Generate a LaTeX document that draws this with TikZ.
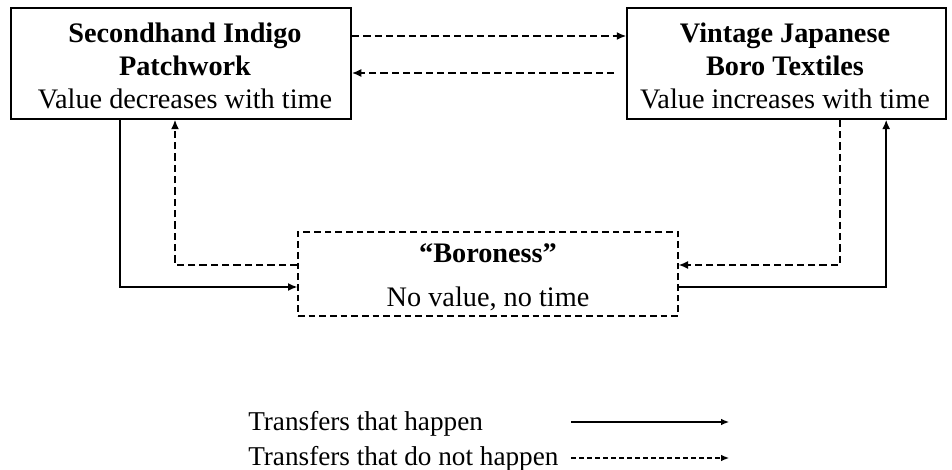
\documentclass[tikz,border=0pt]{standalone}
\usepackage{fontspec}
\setmainfont{Liberation Serif}
\usetikzlibrary{calc}
\usetikzlibrary{arrows.meta}
\definecolor{BLACK}{HTML}{000000}

\tikzset{
    box/.style={draw=BLACK, line width=1.5pt, align=center, inner sep=0pt,
        font=\fontsize{21.2}{24.8}\selectfont},
    dbox/.style={draw=BLACK, line width=1pt, dash pattern=on 5pt off 3pt},
    txt/.style={inner sep=0pt, font=\fontsize{21.2}{24.8}\selectfont},
    legtxt/.style={inner sep=0pt, font=\fontsize{20.4}{24}\selectfont},
    flow/.style={BLACK, line width=1.1pt, -{Latex[length=7pt,width=6pt]}},
    noflow/.style={BLACK, line width=1.1pt, dash pattern=on 5.5pt off 3pt,
        -{Latex[length=7pt,width=6pt]}},
}

\begin{document}
\begin{tikzpicture}[x=0.75pt, y=-0.75pt]
    \useasboundingbox (0,0) rectangle (952,470);
    % top boxes
    \node[box, minimum width=255pt, minimum height=83pt] (patch) at (181,63.5) {};
    \node[txt, align=center] (patchtxt) at (185,66)
        {\textbf{Secondhand Indigo}\\\textbf{Patchwork}\\Value decreases with time};
    \node[box, minimum width=239pt, minimum height=83pt] (boro) at (786.5,63.5) {};
    \node[txt, align=center] (borotxt) at (785,66)
        {\textbf{Vintage Japanese}\\\textbf{Boro Textiles}\\Value increases with time};
    % middle box
    \node[dbox, minimum width=285pt, minimum height=63pt] (boroness) at (488,274) {};
    \node[txt] (bname) at (488,253) {\textbf{``Boroness''}};
    \node[txt] (bnote) at (488,299) {No value, no time};

    % between the top boxes
    \draw[noflow] ($(patch.east)+(0,-27.5)$) -- ($(boro.west)+(0,-27.5)$);
    \draw[noflow] ($(boro.west)+(-12,9.5)$) -- ($(patch.east)+(0,9.5)$);
    % left side
    \draw[flow] ($(patch.south west)+(110,0)$) |- ($(boroness.west)+(0,13)$);
    \draw[noflow] ($(boroness.west)+(0,-9)$) -| ($(patch.south west)+(165,0)$);
    % right side
    \draw[noflow] ($(boro.south west)+(214,0)$) |- ($(boroness.east)+(0,-9)$);
    \draw[flow] ($(boroness.east)+(0,13)$) -| ($(boro.south west)+(260,0)$);

    % legend
    \node[legtxt, anchor=base west] (lhap) at (248,430) {Transfers that happen};
    \node[legtxt, anchor=base west] (lnot) at (248,465) {Transfers that do not happen};
    \coordinate (s1) at (571,422);
    \coordinate (e1) at (729,422);
    \coordinate (s2) at (571,458);
    \coordinate (e2) at (729,458);
    \draw[BLACK, line width=0.9pt, -{Latex[length=6pt,width=5pt]}] (s1) -- (e1);
    \draw[BLACK, line width=0.9pt, dash pattern=on 3.5pt off 2.5pt,
        -{Latex[length=6pt,width=5pt]}] (s2) -- (e2);
\end{tikzpicture}
\end{document}
